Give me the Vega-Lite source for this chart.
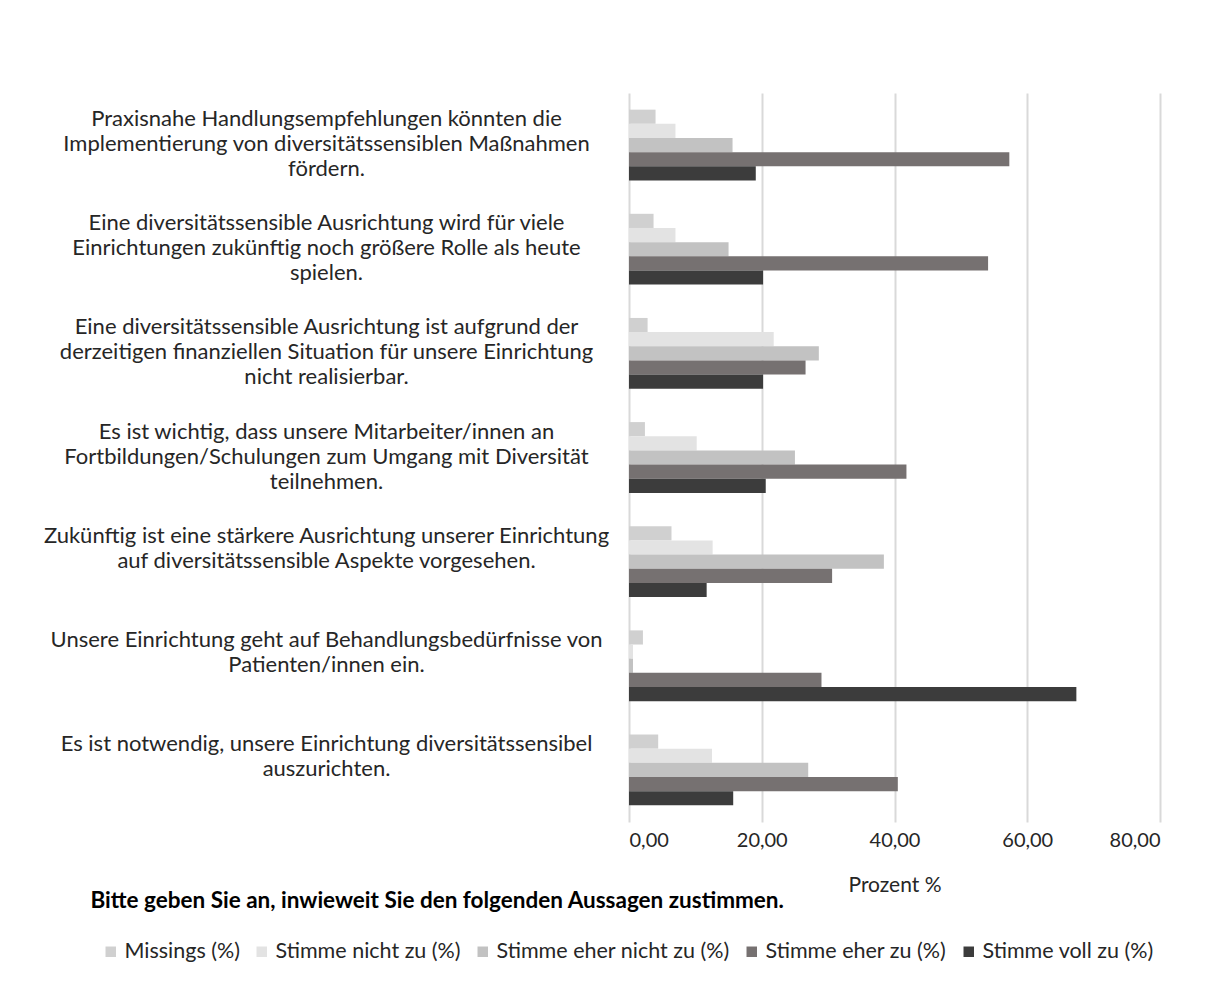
{
  "$schema": "https://vega.github.io/schema/vega-lite/v6.json",
  "autosize": {"type": "none"},
  "padding": {"left": 629, "top": 93, "right": 53, "bottom": 163},
  "width": 531,
  "height": 729,
  "background": "white",
  "config": {"font": "Lato", "view": {"stroke": null}},
  "data": {"values": [
    {"aussage": "Praxisnahe Handlungsempfehlungen könnten die|Implementierung von diversitätssensiblen Maßnahmen|fördern.", "antwort": "Missings (%)", "prozent": 4.0},
    {"aussage": "Praxisnahe Handlungsempfehlungen könnten die|Implementierung von diversitätssensiblen Maßnahmen|fördern.", "antwort": "Stimme nicht zu (%)", "prozent": 7.0},
    {"aussage": "Praxisnahe Handlungsempfehlungen könnten die|Implementierung von diversitätssensiblen Maßnahmen|fördern.", "antwort": "Stimme eher nicht zu (%)", "prozent": 15.6},
    {"aussage": "Praxisnahe Handlungsempfehlungen könnten die|Implementierung von diversitätssensiblen Maßnahmen|fördern.", "antwort": "Stimme eher zu (%)", "prozent": 57.3},
    {"aussage": "Praxisnahe Handlungsempfehlungen könnten die|Implementierung von diversitätssensiblen Maßnahmen|fördern.", "antwort": "Stimme voll zu (%)", "prozent": 19.1},
    {"aussage": "Eine diversitätssensible Ausrichtung wird für viele|Einrichtungen zukünftig noch größere Rolle als heute|spielen.", "antwort": "Missings (%)", "prozent": 3.7},
    {"aussage": "Eine diversitätssensible Ausrichtung wird für viele|Einrichtungen zukünftig noch größere Rolle als heute|spielen.", "antwort": "Stimme nicht zu (%)", "prozent": 7.0},
    {"aussage": "Eine diversitätssensible Ausrichtung wird für viele|Einrichtungen zukünftig noch größere Rolle als heute|spielen.", "antwort": "Stimme eher nicht zu (%)", "prozent": 15.0},
    {"aussage": "Eine diversitätssensible Ausrichtung wird für viele|Einrichtungen zukünftig noch größere Rolle als heute|spielen.", "antwort": "Stimme eher zu (%)", "prozent": 54.1},
    {"aussage": "Eine diversitätssensible Ausrichtung wird für viele|Einrichtungen zukünftig noch größere Rolle als heute|spielen.", "antwort": "Stimme voll zu (%)", "prozent": 20.2},
    {"aussage": "Eine diversitätssensible Ausrichtung ist aufgrund der|derzeitigen finanziellen Situation für unsere Einrichtung|nicht realisierbar.", "antwort": "Missings (%)", "prozent": 2.8},
    {"aussage": "Eine diversitätssensible Ausrichtung ist aufgrund der|derzeitigen finanziellen Situation für unsere Einrichtung|nicht realisierbar.", "antwort": "Stimme nicht zu (%)", "prozent": 21.8},
    {"aussage": "Eine diversitätssensible Ausrichtung ist aufgrund der|derzeitigen finanziellen Situation für unsere Einrichtung|nicht realisierbar.", "antwort": "Stimme eher nicht zu (%)", "prozent": 28.6},
    {"aussage": "Eine diversitätssensible Ausrichtung ist aufgrund der|derzeitigen finanziellen Situation für unsere Einrichtung|nicht realisierbar.", "antwort": "Stimme eher zu (%)", "prozent": 26.6},
    {"aussage": "Eine diversitätssensible Ausrichtung ist aufgrund der|derzeitigen finanziellen Situation für unsere Einrichtung|nicht realisierbar.", "antwort": "Stimme voll zu (%)", "prozent": 20.2},
    {"aussage": "Es ist wichtig, dass unsere Mitarbeiter/innen an|Fortbildungen/Schulungen zum Umgang mit Diversität|teilnehmen.", "antwort": "Missings (%)", "prozent": 2.4},
    {"aussage": "Es ist wichtig, dass unsere Mitarbeiter/innen an|Fortbildungen/Schulungen zum Umgang mit Diversität|teilnehmen.", "antwort": "Stimme nicht zu (%)", "prozent": 10.2},
    {"aussage": "Es ist wichtig, dass unsere Mitarbeiter/innen an|Fortbildungen/Schulungen zum Umgang mit Diversität|teilnehmen.", "antwort": "Stimme eher nicht zu (%)", "prozent": 25.0},
    {"aussage": "Es ist wichtig, dass unsere Mitarbeiter/innen an|Fortbildungen/Schulungen zum Umgang mit Diversität|teilnehmen.", "antwort": "Stimme eher zu (%)", "prozent": 41.8},
    {"aussage": "Es ist wichtig, dass unsere Mitarbeiter/innen an|Fortbildungen/Schulungen zum Umgang mit Diversität|teilnehmen.", "antwort": "Stimme voll zu (%)", "prozent": 20.6},
    {"aussage": "Zukünftig ist eine stärkere Ausrichtung unserer Einrichtung|auf diversitätssensible Aspekte vorgesehen.", "antwort": "Missings (%)", "prozent": 6.4},
    {"aussage": "Zukünftig ist eine stärkere Ausrichtung unserer Einrichtung|auf diversitätssensible Aspekte vorgesehen.", "antwort": "Stimme nicht zu (%)", "prozent": 12.6},
    {"aussage": "Zukünftig ist eine stärkere Ausrichtung unserer Einrichtung|auf diversitätssensible Aspekte vorgesehen.", "antwort": "Stimme eher nicht zu (%)", "prozent": 38.4},
    {"aussage": "Zukünftig ist eine stärkere Ausrichtung unserer Einrichtung|auf diversitätssensible Aspekte vorgesehen.", "antwort": "Stimme eher zu (%)", "prozent": 30.6},
    {"aussage": "Zukünftig ist eine stärkere Ausrichtung unserer Einrichtung|auf diversitätssensible Aspekte vorgesehen.", "antwort": "Stimme voll zu (%)", "prozent": 11.7},
    {"aussage": "Unsere Einrichtung geht auf Behandlungsbedürfnisse von|Patienten/innen ein.", "antwort": "Missings (%)", "prozent": 2.1},
    {"aussage": "Unsere Einrichtung geht auf Behandlungsbedürfnisse von|Patienten/innen ein.", "antwort": "Stimme nicht zu (%)", "prozent": 0.6},
    {"aussage": "Unsere Einrichtung geht auf Behandlungsbedürfnisse von|Patienten/innen ein.", "antwort": "Stimme eher nicht zu (%)", "prozent": 0.6},
    {"aussage": "Unsere Einrichtung geht auf Behandlungsbedürfnisse von|Patienten/innen ein.", "antwort": "Stimme eher zu (%)", "prozent": 29.0},
    {"aussage": "Unsere Einrichtung geht auf Behandlungsbedürfnisse von|Patienten/innen ein.", "antwort": "Stimme voll zu (%)", "prozent": 67.4},
    {"aussage": "Es ist notwendig, unsere Einrichtung diversitätssensibel|auszurichten.", "antwort": "Missings (%)", "prozent": 4.4},
    {"aussage": "Es ist notwendig, unsere Einrichtung diversitätssensibel|auszurichten.", "antwort": "Stimme nicht zu (%)", "prozent": 12.5},
    {"aussage": "Es ist notwendig, unsere Einrichtung diversitätssensibel|auszurichten.", "antwort": "Stimme eher nicht zu (%)", "prozent": 27.0},
    {"aussage": "Es ist notwendig, unsere Einrichtung diversitätssensibel|auszurichten.", "antwort": "Stimme eher zu (%)", "prozent": 40.5},
    {"aussage": "Es ist notwendig, unsere Einrichtung diversitätssensibel|auszurichten.", "antwort": "Stimme voll zu (%)", "prozent": 15.7}
  ]},
  "mark": {"type": "bar"},
  "encoding": {
    "y": {
      "field": "aussage", "type": "nominal", "sort": null,
      "scale": {"paddingInner": 0.32, "paddingOuter": 0.16},
      "axis": {
        "labelExpr": "split(datum.label, '|')",
        "labelAlign": "center", "labelBaseline": "middle",
        "labelPadding": 303, "labelLimit": 0, "labelOffset": -26,
        "labelFontSize": 22, "labelLineHeight": 25, "labelColor": "#262626",
        "ticks": false, "domain": false, "grid": false,
        "title": "Bitte geben Sie an, inwieweit Sie den folgenden Aussagen zustimmen.",
        "titleAngle": 0, "titleAlign": "left", "titleBaseline": "alphabetic",
        "titleX": -539, "titleY": 814,
        "titleFontSize": 22.5, "titleFontWeight": "bold", "titleColor": "#000000"
      }
    },
    "yOffset": {
      "field": "antwort", "type": "nominal",
      "sort": ["Missings (%)", "Stimme nicht zu (%)", "Stimme eher nicht zu (%)", "Stimme eher zu (%)", "Stimme voll zu (%)"],
      "scale": {"paddingInner": 0, "paddingOuter": 0}
    },
    "x": {
      "field": "prozent", "type": "quantitative",
      "scale": {"domain": [0, 80], "nice": false},
      "axis": {
        "values": [0, 20, 40, 60, 80],
        "labelExpr": "replace(format(datum.value, '.2f'), '.', ',')",
        "grid": true, "gridColor": "#d9d9d9", "gridWidth": 2,
        "domain": false, "ticks": false,
        "labelFontSize": 20, "labelColor": "#262626", "labelPadding": 8,
        "title": "Prozent %", "titleFontSize": 21, "titleFontWeight": "normal",
        "titleColor": "#262626", "titlePadding": 24
      }
    },
    "color": {
      "field": "antwort", "type": "nominal",
      "scale": {
        "domain": ["Missings (%)", "Stimme nicht zu (%)", "Stimme eher nicht zu (%)", "Stimme eher zu (%)", "Stimme voll zu (%)"],
        "range": ["#d0d0d0", "#e3e3e3", "#c2c2c2", "#767171", "#3c3c3c"]
      },
      "legend": {
        "title": null, "orient": "none", "direction": "horizontal",
        "legendX": -529, "legendY": 848,
        "gridAlign": "none", "labelLimit": 0,
        "symbolType": "square", "symbolSize": 110, "symbolStrokeWidth": 0,
        "labelFontSize": 21.5, "labelColor": "#262626",
        "columnPadding": 11, "labelOffset": 3
      }
    }
  }
}
